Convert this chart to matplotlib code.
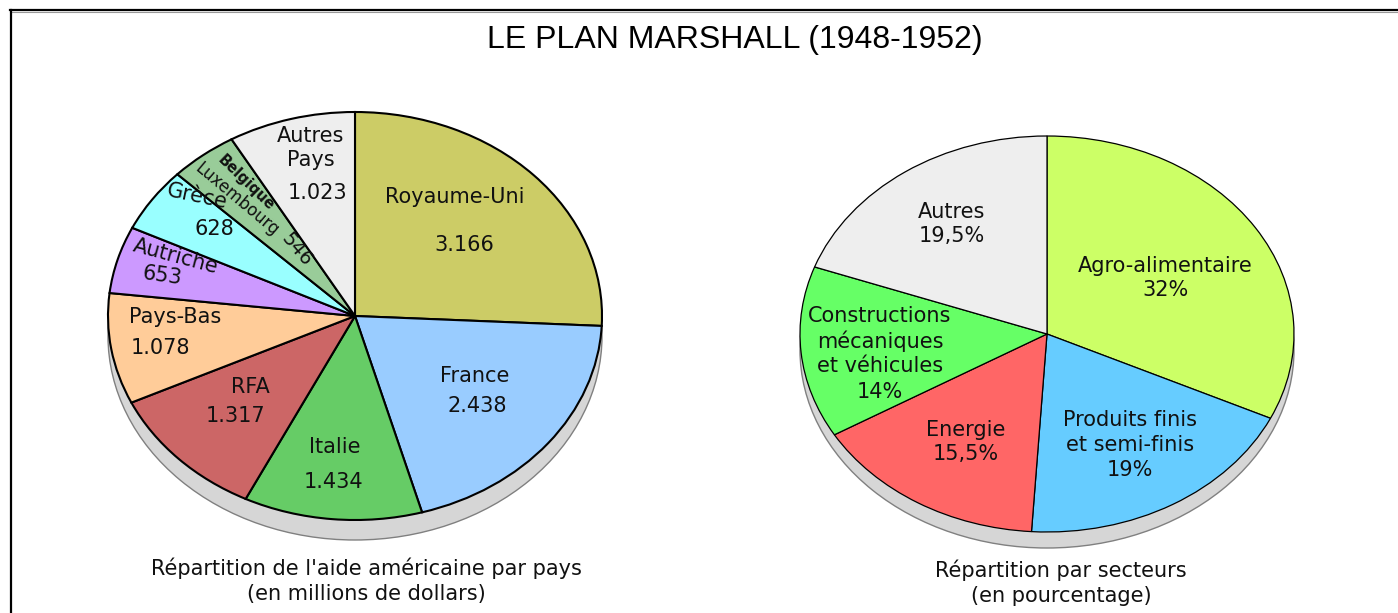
import matplotlib
matplotlib.use("Agg")
import matplotlib.pyplot as plt
from matplotlib.patches import Ellipse
from matplotlib.lines import Line2D

W, H = 1398, 613

# aide américaine par pays (millions de dollars)
pays = ["Royaume-Uni", "France", "Italie", "RFA", "Pays-Bas", "Autriche",
        "Grèce", "Belgique-Luxembourg", "Autres Pays"]
aide = [3166, 2438, 1434, 1317, 1078, 653, 628, 546, 1023]
couleurs_pays = ["#cccc66", "#99ccff", "#66cc66", "#cc6666", "#ffcc99",
                 "#cc99ff", "#99ffff", "#99cc99", "#eeeeee"]

# répartition par secteurs (%)
secteurs = ["Agro-alimentaire", "Produits finis\net semi-finis", "Energie",
            "Constructions\nmécaniques\net véhicules", "Autres"]
parts = [32, 19, 15.5, 14, 19.5]
couleurs_secteurs = ["#ccff66", "#66ccff", "#ff6666", "#66ff66", "#eeeeee"]

# position des étiquettes (pixels de l'image, centre du texte)
pos_noms_pays = [(455, 197), (475, 376), (335, 447), (250, 387), (175, 317),
                 (176, 257), (197, 197), None, (311, 148)]
rot_noms_pays = [0, 0, 0, 0, 0, -15, -12, 0, 0]
pos_val_pays = [(464, 245), (477, 406), (334, 482), (235, 416), (160, 348),
                (162, 276), (214, 229), (297, 250), (318, 193)]
rot_val_pays = [0, 0, 0, 0, 0, -8, 0, -50, 0]
pos_secteurs = [(1165, 278), (1130, 445), (966, 442), (880, 354), (952, 224)]

fig = plt.figure(figsize=(W / 100, H / 100), dpi=100, facecolor="white")


def texte(x, y, s, size=15, rot=0, **kw):
    fig.text(x / W, 1 - y / H, s, ha="center", va="center", fontsize=size,
             rotation=rot, rotation_mode="anchor", color="#111111", **kw)


def lignes(x, y, liste, pas=25, size=15):
    n = len(liste)
    for i, l in enumerate(liste):
        texte(x, y + (i - (n - 1) / 2) * pas, l, size=size)


def camembert(cx, cy, rx, ry, valeurs, couleurs, ombre, lw):
    m = 1.15
    ax = fig.add_axes([(cx - m * rx) / W, (H - cy - m * ry) / H,
                       2 * m * rx / W, 2 * m * ry / H])
    ax.add_patch(Ellipse((0, -ombre / ry), 2, 2, facecolor="#d6d6d6",
                         edgecolor="#808080", linewidth=1, zorder=0))
    ax.pie(valeurs, colors=couleurs, startangle=90, counterclock=False,
           wedgeprops=dict(edgecolor="black", linewidth=lw))
    ax.set_aspect("auto")
    ax.set_xlim(-m, m)
    ax.set_ylim(-m, m)
    ax.axis("off")
    return ax


camembert(355, 316, 247, 204, aide, couleurs_pays, 20, 1.5)
camembert(1047, 334, 247, 198, parts, couleurs_secteurs, 16, 0.9)

# étiquettes par pays
for i, nom in enumerate(pays):
    val = f"{aide[i]:,}".replace(",", ".")
    if nom == "Belgique-Luxembourg":
        texte(246, 183, "Belgique", size=10.5, rot=-44, fontweight="bold")
        texte(237, 199, "Luxembourg", size=12, rot=-40)
        texte(*pos_val_pays[i], val, size=14, rot=rot_val_pays[i])
        continue
    if nom == "Autres Pays":
        lignes(*pos_noms_pays[i], ["Autres", "Pays"])
    else:
        texte(*pos_noms_pays[i], nom, rot=rot_noms_pays[i])
    texte(*pos_val_pays[i], val, rot=rot_val_pays[i])

# étiquettes par secteurs
for i, nom in enumerate(secteurs):
    pct = f"{parts[i]:g}".replace(".", ",") + "%"
    lignes(*pos_secteurs[i], nom.split("\n") + [pct])

# titres
fig.text(735 / W, 1 - 40 / H, "LE PLAN MARSHALL (1948-1952)", ha="center",
         va="center", fontsize=23, family="Liberation Sans", color="black")
lignes(366, 581, ["Répartition de l'aide américaine par pays",
                  "(en millions de dollars)"], pas=26)
lignes(1061, 583, ["Répartition par secteurs", "(en pourcentage)"], pas=26)

# cadre
fig.add_artist(Line2D([10 / W, 1], [1 - 9.5 / H] * 2, color="black",
                      lw=1.6, transform=fig.transFigure))
fig.add_artist(Line2D([10 / W, 1], [1 - 11.5 / H] * 2, color="#999999",
                      lw=0.8, transform=fig.transFigure))
fig.add_artist(Line2D([10.5 / W] * 2, [0, 1 - 9.5 / H], color="black",
                      lw=1.6, transform=fig.transFigure))

fig.savefig("out.png", dpi=100, facecolor="white")
